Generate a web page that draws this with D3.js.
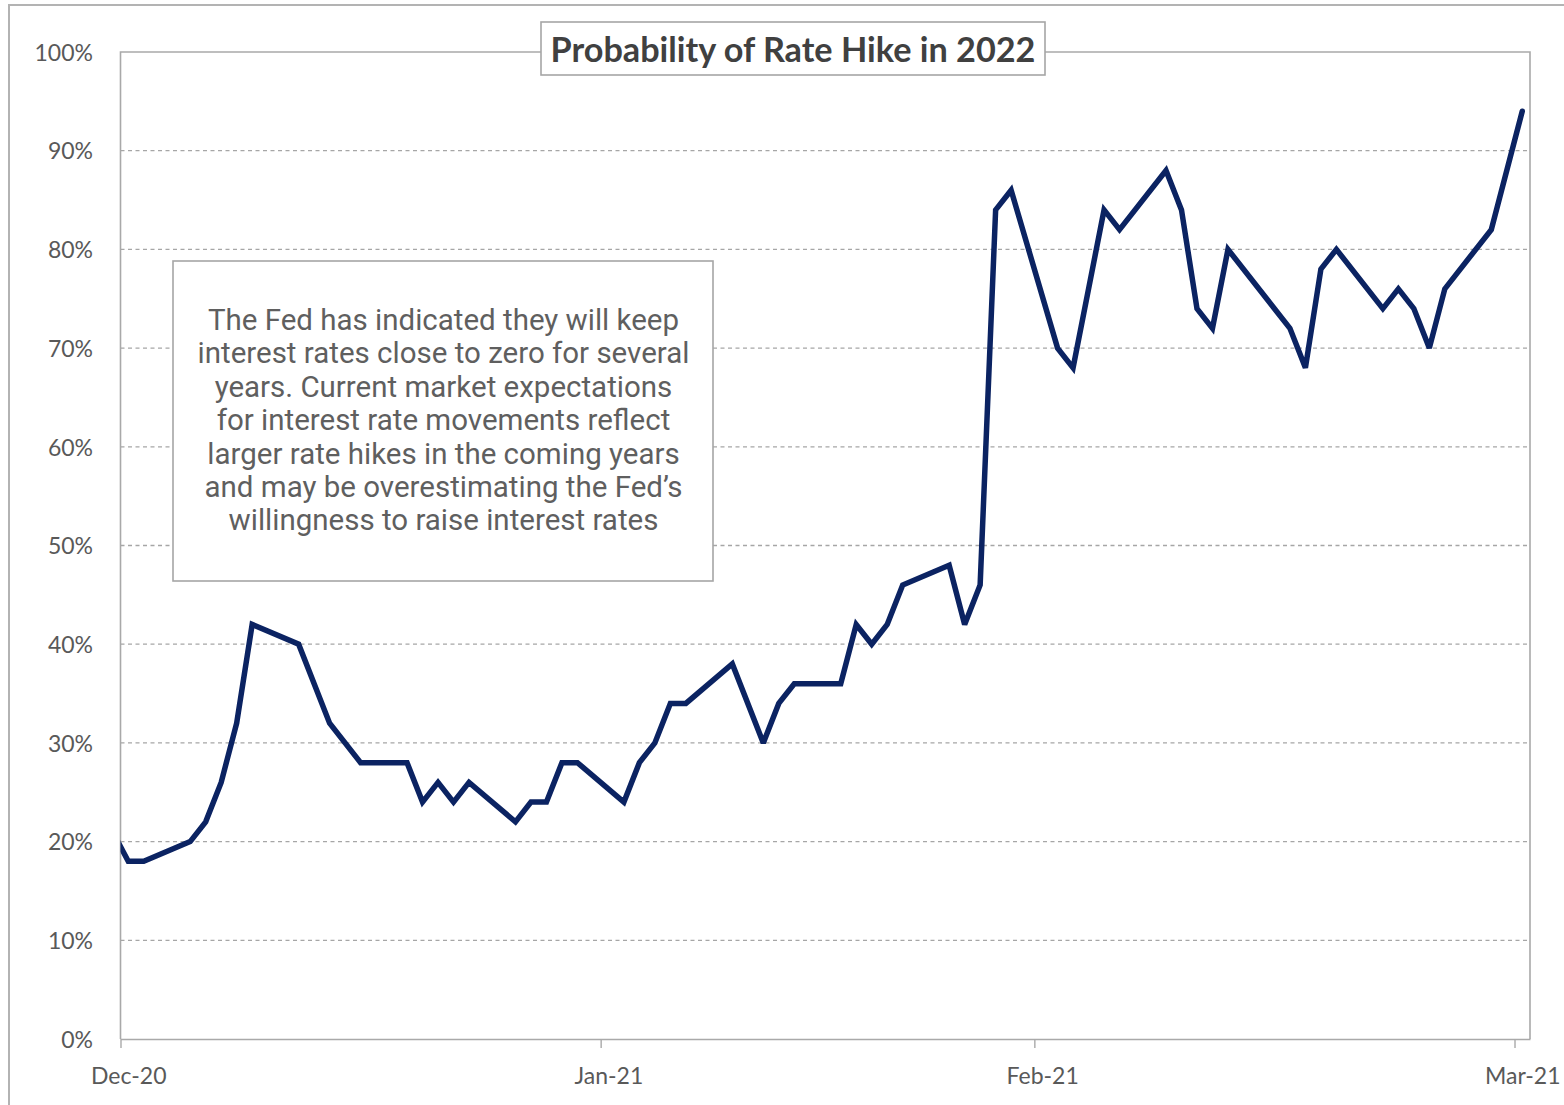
<!DOCTYPE html>
<html>
<head>
<meta charset="utf-8">
<script src="https://cdn.jsdelivr.net/npm/d3@7"></script>
<style>
  html, body { margin: 0; padding: 0; background: #fff; }
  svg { display: block; }
</style>
</head>
<body>
<svg id="chart" width="1564" height="1105"></svg>
<script>
// Market-implied probability of a Fed rate hike in 2022, by trading day
const dates = [
  "2020-12-30", "2020-12-31", "2021-01-01", "2021-01-04", "2021-01-05", "2021-01-06",
  "2021-01-07", "2021-01-08", "2021-01-11", "2021-01-13", "2021-01-15", "2021-01-18",
  "2021-01-19", "2021-01-20", "2021-01-21", "2021-01-22", "2021-01-25", "2021-01-26",
  "2021-01-27", "2021-01-28", "2021-01-29", "2021-02-01", "2021-02-02", "2021-02-03",
  "2021-02-04", "2021-02-05", "2021-02-08", "2021-02-10", "2021-02-11", "2021-02-12",
  "2021-02-15", "2021-02-16", "2021-02-17", "2021-02-18", "2021-02-19", "2021-02-22",
  "2021-02-23", "2021-02-24", "2021-02-25", "2021-02-26", "2021-03-01", "2021-03-02",
  "2021-03-04", "2021-03-05", "2021-03-08", "2021-03-09", "2021-03-10", "2021-03-11",
  "2021-03-12", "2021-03-16", "2021-03-17", "2021-03-18", "2021-03-19", "2021-03-22",
  "2021-03-23", "2021-03-24", "2021-03-25", "2021-03-26", "2021-03-29", "2021-03-31"
];
const probability = [
  0.21, 0.18, 0.18, 0.20, 0.22, 0.26,
  0.32, 0.42, 0.40, 0.32, 0.28, 0.28,
  0.24, 0.26, 0.24, 0.26, 0.22, 0.24,
  0.24, 0.28, 0.28, 0.24, 0.28, 0.30,
  0.34, 0.34, 0.38, 0.30, 0.34, 0.36,
  0.36, 0.42, 0.40, 0.42, 0.46, 0.48,
  0.42, 0.46, 0.84, 0.86, 0.70, 0.68,
  0.84, 0.82, 0.88, 0.84, 0.74, 0.72,
  0.80, 0.72, 0.68, 0.78, 0.80, 0.74,
  0.76, 0.74, 0.70, 0.76, 0.82, 0.94
];
const axisStart = "2020-12-31";
const axisEnd = "2021-04-01";
const xTickDates = ["2020-12-31", "2021-01-31", "2021-02-28", "2021-03-31"];
const yTickValues = [0, 0.1, 0.2, 0.3, 0.4, 0.5, 0.6, 0.7, 0.8, 0.9, 1.0];
const titleText = "Probability of Rate Hike in 2022";
const noteLines = [
  "The Fed has indicated they will keep",
  "interest rates close to zero for several",
  "years. Current market expectations",
  "for interest rate movements reflect",
  "larger rate hikes in the coming years",
  "and may be overestimating the Fed\u2019s",
  "willingness to raise interest rates"
];

const parse = d3.utcParse("%Y-%m-%d");
const HALF_DAY = 12 * 3600 * 1000;
const series = dates.map((d, i) => ({ date: parse(d), value: probability[i] }));

const svg = d3.select("#chart");
const plot = { left: 120.5, right: 1530, top: 52, bottom: 1039 };
const axisGrey = "#a9a9a9";
const labelGrey = "#595959";

const x = d3.scaleUtc()
  .domain([parse(axisStart), parse(axisEnd)])
  .range([plot.left, plot.right]);
const y = d3.scaleLinear()
  .domain([0, 1])
  .range([plot.bottom, plot.top]);

// outer frame of the chart object
svg.append("path")
  .attr("d", "M9,1105 V5 H1564")
  .attr("fill", "none")
  .attr("stroke", "#b3b3b3")
  .attr("stroke-width", 2);

// dashed horizontal gridlines
svg.append("g")
  .selectAll("line")
  .data(yTickValues.filter(v => v > 0 && v < 1))
  .join("line")
  .attr("x1", plot.left).attr("x2", plot.right)
  .attr("y1", d => y(d)).attr("y2", d => y(d))
  .attr("stroke", "#a6a6a6")
  .attr("stroke-width", 1.3)
  .attr("stroke-dasharray", "4,3.5");

// plot-area frame (left, top, right)
svg.append("path")
  .attr("d", `M${plot.left},${plot.bottom} V${plot.top} H${plot.right} V${plot.bottom}`)
  .attr("fill", "none")
  .attr("stroke", axisGrey)
  .attr("stroke-width", 1.6);

// y axis labels
const yAxis = svg.append("g")
  .attr("transform", `translate(${plot.left},0)`)
  .call(d3.axisLeft(y).tickValues(yTickValues).tickFormat(d3.format(".0%")).tickSize(0).tickPadding(27.5));
yAxis.select(".domain").remove();
yAxis.selectAll("text")
  .attr("fill", labelGrey)
  .attr("font-family", "Lato, 'Open Sans', sans-serif")
  .attr("font-size", 23)
  .attr("dy", "0.36em");

// x axis: ticks at day boundaries, labels centred on the day
const xAxis = svg.append("g")
  .attr("transform", `translate(0,${plot.bottom})`)
  .call(d3.axisBottom(x)
    .tickValues(xTickDates.map(parse))
    .tickFormat(d3.utcFormat("%b-%y"))
    .tickSize(9)
    .tickSizeOuter(0)
    .tickPadding(20));
xAxis.select(".domain").attr("stroke", axisGrey).attr("stroke-width", 1.6);
xAxis.selectAll(".tick line").attr("stroke", axisGrey).attr("stroke-width", 1.4);
xAxis.selectAll(".tick text")
  .attr("x", d => x(new Date(+d + HALF_DAY)) - x(d))
  .attr("fill", labelGrey)
  .attr("font-family", "Lato, 'Open Sans', sans-serif")
  .attr("font-size", 23);

// clip the series to the plot area
svg.append("defs").append("clipPath").attr("id", "plot-clip")
  .append("rect")
  .attr("x", plot.left).attr("y", plot.top - 10)
  .attr("width", plot.right - plot.left).attr("height", plot.bottom - plot.top + 10);

const line = d3.line()
  .x(d => x(new Date(+d.date + HALF_DAY)))
  .y(d => y(d.value));

svg.append("path")
  .datum(series)
  .attr("clip-path", "url(#plot-clip)")
  .attr("d", line)
  .attr("fill", "none")
  .attr("stroke", "#0b2362")
  .attr("stroke-width", 5.5)
  .attr("stroke-linejoin", "miter")
  .attr("stroke-miterlimit", 2.5)
  .attr("stroke-linecap", "round");

// title box
const titleBox = { x: 541, y: 22, w: 504, h: 53 };
svg.append("rect")
  .attr("x", titleBox.x).attr("y", titleBox.y)
  .attr("width", titleBox.w).attr("height", titleBox.h)
  .attr("fill", "#fff")
  .attr("stroke", "#a6a6a6")
  .attr("stroke-width", 1.6);
const title = svg.append("text")
  .attr("x", titleBox.x + titleBox.w / 2)
  .attr("y", 61.5)
  .attr("text-anchor", "middle")
  .attr("fill", "#404040")
  .attr("font-family", "Lato, 'Open Sans', sans-serif")
  .attr("font-weight", 700)
  .attr("font-size", 33)
  .text(titleText);
{
  const w = title.node().getComputedTextLength();
  title.attr("font-size", 33 * 485 / w);
}

// annotation box
const noteBox = { x: 173, y: 261, w: 540, h: 320 };
svg.append("rect")
  .attr("x", noteBox.x).attr("y", noteBox.y)
  .attr("width", noteBox.w).attr("height", noteBox.h)
  .attr("fill", "#fff")
  .attr("stroke", "#a6a6a6")
  .attr("stroke-width", 1.6);
const note = svg.append("text")
  .attr("text-anchor", "middle")
  .attr("fill", "#5f5f5f")
  .attr("font-family", "Roboto, 'Noto Sans', sans-serif")
  .attr("font-size", 26);
note.selectAll("tspan")
  .data(noteLines)
  .join("tspan")
  .attr("x", noteBox.x + noteBox.w / 2 + 0.5)
  .attr("y", (d, i) => 330 + i * 33.4)
  .text(d => d);
{
  const widest = note.selectAll("tspan").nodes()[1].getComputedTextLength();
  note.attr("font-size", 26 * 492 / widest);
}
</script>
</body>
</html>
